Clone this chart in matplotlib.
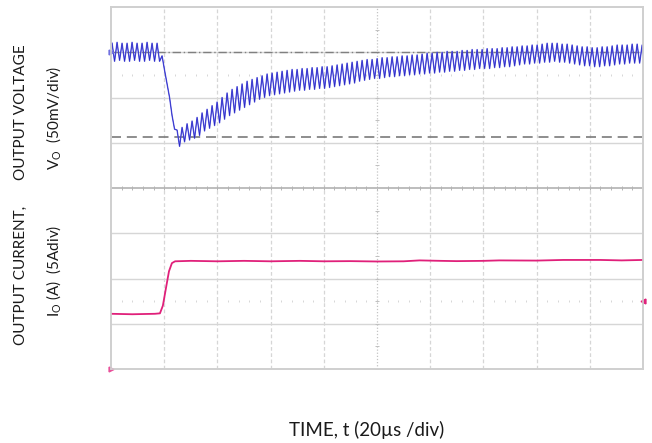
import numpy as np
import matplotlib.pyplot as plt

plt.rcParams['font.family'] = ['Lato', 'DejaVu Sans']

# ---- scope settings
time_per_div = 20      # us
volt_per_div = 50      # mV
amp_per_div = 5        # A
vo_ref = -94           # mV, dashed line
trigger_level = 7.5    # A

# ---- output voltage ripple, one peak and one trough per switching cycle (mV from nominal)
ripple_period = 1.88   # us
vo_peaks = [10, 11, 10, 10, 11, 10, 10, 11, 10, 10,
            -4, -35, -70, -86, -83, -79, -76, -72, -67, -63,
            -59, -55, -50, -45, -41, -38, -35, -32, -30, -28,
            -26, -24, -23, -22, -21, -20, -19, -19, -18, -18,
            -17, -17, -16, -16, -15, -14, -13, -12, -11, -10,
            -9, -8, -8, -7, -6, -6, -5, -5, -4, -4,
            -3, -3, -2, -1, -1, 0, 0, 1, 1, 1,
            2, 2, 3, 3, 3, 4, 4, 4, 5, 5,
            6, 6, 7, 7, 8, 8, 9, 10, 10, 10,
            9, 9, 8, 7, 6, 6, 5, 5, 6, 6,
            7, 8, 8, 8, 9, 9, 8]
vo_troughs = [-10, -9, -10, -10, -9, -10, -10, -9, -10, -10,
              -20, -50, -85, -104, -99, -97, -95, -92, -87, -84,
              -81, -78, -74, -70, -67, -64, -61, -58, -55, -52,
              -50, -48, -47, -46, -45, -44, -43, -42, -42, -41,
              -41, -40, -40, -39, -38, -37, -36, -35, -34, -32,
              -31, -30, -29, -29, -28, -27, -27, -26, -26, -25,
              -25, -24, -24, -23, -23, -22, -22, -21, -21, -20,
              -20, -19, -19, -18, -18, -18, -17, -17, -16, -16,
              -15, -14, -13, -13, -12, -12, -11, -11, -10, -11,
              -11, -12, -13, -14, -15, -15, -16, -16, -15, -15,
              -14, -13, -13, -12, -12, -12, -13]

# ---- output current (A)
io_time = [0, 8, 16.5, 18.4, 19.5, 20.7, 21.8, 22.9, 24.1, 30, 40, 50, 60, 71,
           80, 90, 100, 110, 116, 124, 130, 140, 146, 160, 170, 184, 192, 200]
io_amps = [6.1, 6.05, 6.1, 6.15, 7.0, 9.0, 10.8, 11.7, 11.9, 11.95, 11.9, 11.95, 11.9, 11.95,
           11.9, 11.92, 11.88, 11.9, 12.0, 11.95, 11.92, 11.95, 12.0, 11.98, 12.05, 12.05, 12.0, 12.05]

# build the voltage trace
n = len(vo_peaks)
t_pk = 0.4 + ripple_period * np.arange(n)
t_tr = t_pk + ripple_period / 2
vo_t = np.empty(2 * n)
vo_v = np.empty(2 * n)
vo_t[0::2] = t_pk
vo_t[1::2] = t_tr
vo_v[0::2] = vo_peaks
vo_v[1::2] = vo_troughs

fig = plt.figure(figsize=(6.52, 4.43), dpi=100)
ax = fig.add_axes([111 / 652, 1 - 369 / 443, 532 / 652, 362 / 443])
ax2 = ax.twinx()

# voltage axis: nominal sits 3 div above centre
ax.set_xlim(0, 10 * time_per_div)
ax.set_ylim(-7 * volt_per_div, 1 * volt_per_div)
ax2.set_ylim(0, 8 * amp_per_div)

grid_c = '#d6d6d6'
for i in range(1, 10):
    x = i * time_per_div
    if i == 5:
        ax.axvline(x, color='#c4c4c4', lw=0.9, ls=(0, (1, 1.5)), zorder=1)
    else:
        ax.axvline(x, color=grid_c, lw=0.9, ls=(0, (3, 2)), zorder=1)
for j in range(1, 8):
    y = -7 * volt_per_div + j * volt_per_div
    if j == 4:
        ax.axhline(y, color='#bdbdbd', lw=1.4, zorder=1)
    else:
        ax.axhline(y, color=grid_c, lw=1.0, zorder=1)

# minor tick marks on the centre cross and the dotted rows
minor_x = np.arange(0, 10 * time_per_div + 0.1, time_per_div / 5)
centre_y = -3 * volt_per_div
ax.plot(minor_x, np.full(len(minor_x), centre_y), ls='none', marker='|', ms=3.5,
        color='#b4b4b4', mew=0.7, zorder=1)
for row in (-0.5 * volt_per_div, -5.5 * volt_per_div):
    ax.plot(minor_x, np.full(len(minor_x), row), ls='none', marker='|', ms=1.5,
            color='#d0d0d0', mew=0.6, zorder=1)
minor_y = np.arange(-7 * volt_per_div, volt_per_div + 0.1, volt_per_div / 2)
ax.plot(np.full(len(minor_y), 5 * time_per_div), minor_y, ls='none', marker='_', ms=3,
        color='#c0c0c0', mew=0.7, zorder=1)

# reference lines
ax.axhline(0, color='#808080', lw=1.0, ls=(0, (6, 2, 1, 2)), zorder=2)
ax.axhline(vo_ref, color='#7a7a7a', lw=1.2, ls=(0, (6, 3.5)), zorder=2)

# traces
ax.plot(vo_t, vo_v, color='#6464e4', lw=1.0, zorder=3)
ax.plot(vo_t, vo_v, color='#2323c0', lw=0.4, zorder=3)
ax2.plot(io_time, io_amps, color='#e0207a', lw=1.3)

# channel markers
ax.plot([0], [0], marker='>', ms=3.5, color='#7070e0', clip_on=False, zorder=4)
ax2.plot([0], [0], marker='>', ms=3.5, color='#e8509a', clip_on=False)
ax2.plot([10 * time_per_div], [trigger_level], marker='<', ms=3.5, color='#e0207a', clip_on=False)

for a in (ax, ax2):
    a.set_xticks([])
    a.set_yticks([])
    for s in a.spines.values():
        s.set_color('#cfcfcf')
        s.set_linewidth(1.2)

txt = '#1a1a1a'
fs = 11
fig.text(21 / 652, 1 - 112 / 443, 'OUTPUT VOLTAGE', rotation=90, ha='center', va='center',
         fontsize=fs, color=txt)
fig.text(54 / 652, 1 - 118 / 443, 'V$_\\mathregular{O}$  (50mV/div)', rotation=90,
         ha='center', va='center', fontsize=fs, color=txt)
fig.text(21 / 652, 1 - 275 / 443, 'OUTPUT CURRENT,', rotation=90, ha='center', va='center',
         fontsize=fs, color=txt)
fig.text(54 / 652, 1 - 271 / 443, 'I$_\\mathregular{O}$ (A)  (5Adiv)', rotation=90,
         ha='center', va='center', fontsize=fs, color=txt)
fig.text(367 / 652, 1 - 430 / 443, 'TIME, t (20\u00b5s /div)', ha='center', va='center',
         fontsize=13.5, color=txt)

fig.savefig('out.png', dpi=100)
